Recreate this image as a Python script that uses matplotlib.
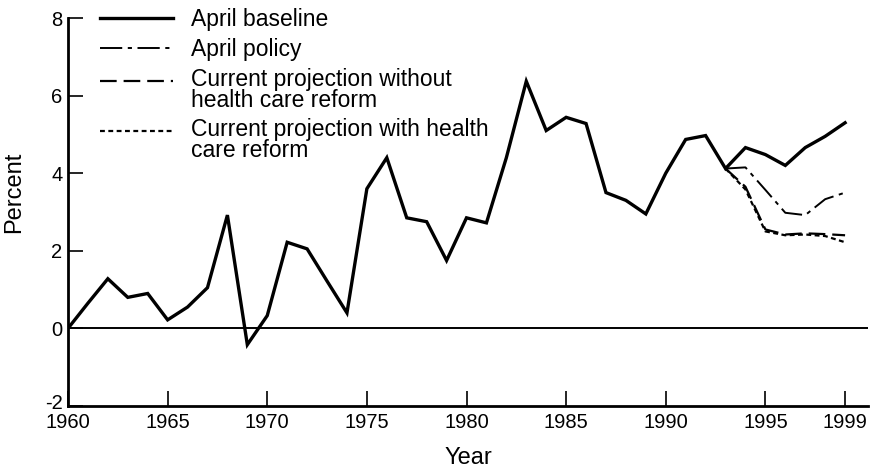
import numpy as np
from matplotlib import pyplot as plt
from matplotlib.legend_handler import HandlerLine2D
from matplotlib.transforms import ScaledTranslation

plt.rcParams['font.family'] = ['Liberation Sans', 'DejaVu Sans']
plt.rcParams['lines.scale_dashes'] = False
plt.rcParams['axes.unicode_minus'] = False

# Data
years = list(range(1960, 2000))
baseline = [0.0, 0.65, 1.28, 0.8, 0.9, 0.22, 0.55, 1.05, 2.92, -0.42,
            0.33, 2.22, 2.05, 1.22, 0.4, 3.6, 4.4, 2.85, 2.75, 1.75,
            2.85, 2.72, 4.4, 6.37, 5.1, 5.44, 5.28, 3.5, 3.3, 2.95,
            4.0, 4.87, 4.97, 4.12, 4.66, 4.48, 4.2, 4.66, 4.95, 5.3]

proj_years = list(range(1993, 2000))
policy = [4.12, 4.15, 3.57, 2.98, 2.92, 3.33, 3.5]
without_reform = [4.12, 3.65, 2.55, 2.42, 2.45, 2.43, 2.4]
with_reform = [4.12, 3.58, 2.5, 2.4, 2.42, 2.38, 2.22]

labels = ['April baseline', 'April policy',
          'Current projection without\nhealth care reform',
          'Current projection with health\ncare reform']

xticks = [1960, 1965, 1970, 1975, 1980, 1985, 1990, 1995, 1999]
yticks = [-2, 0, 2, 4, 6, 8]


class FirstLineHandler(HandlerLine2D):
    # put the legend line next to the first line of a two line label
    def create_artists(self, legend, orig_handle, xdescent, ydescent,
                       width, height, fontsize, trans):
        artists = super().create_artists(legend, orig_handle, xdescent, ydescent,
                                         width, height, fontsize, trans)
        for a in artists:
            a.set_ydata(np.asarray(a.get_ydata()) + 0.44 * fontsize)
        return artists


fig = plt.figure(figsize=(8.75, 4.67), dpi=100)
ax = fig.add_axes([68 / 875, 1 - 406 / 467, 800 / 875, 388 / 467])

l1, = ax.plot(years, baseline, color='black', lw=2.4, solid_joinstyle='miter')
l2, = ax.plot(proj_years, policy, color='black', lw=1.4, dashes=(16, 4, 3, 4))
l3, = ax.plot(proj_years, without_reform, color='black', lw=1.6, dashes=(12, 5))
l4, = ax.plot(proj_years, with_reform, color='black', lw=1.6, dashes=(3.5, 2.5))

ax.axhline(0, color='black', lw=1.4)

ax.set_xlim(1960, 2000.15)
ax.set_ylim(-2, 8)
ax.set_xticks(xticks)
ax.set_yticks(yticks)
ax.tick_params(direction='in', length=11, width=1.2, labelsize=14.5, pad=4)
ax.tick_params(axis='x', pad=5)

# nudge the -2 label up a little so it clears 1960
lowest = ax.get_yticklabels()[0]
lowest.set_transform(lowest.get_transform() + ScaledTranslation(0, 3 / 72, fig.dpi_scale_trans))

for side in ['top', 'right']:
    ax.spines[side].set_visible(False)
ax.spines['left'].set_linewidth(2)
ax.spines['bottom'].set_linewidth(2)

ax.set_ylabel('Percent', fontsize=17)
ax.yaxis.set_label_coords(-0.054, 0.55)
ax.set_xlabel('Year', fontsize=17)
ax.xaxis.set_label_coords(0.5, -0.105)

hmap = {l3: FirstLineHandler(), l4: FirstLineHandler()}
leg = fig.legend([l1, l2, l3, l4], labels, loc='upper left',
                 bbox_to_anchor=(100 / 875, 1 - 8 / 467), frameon=False,
                 fontsize=16.5, handlelength=3.2, handletextpad=0.75,
                 borderpad=0, borderaxespad=0, labelspacing=0.3,
                 handler_map=hmap)
for t in leg.get_texts():
    t.set_linespacing(0.88)

plt.savefig('out.png', dpi=100)
